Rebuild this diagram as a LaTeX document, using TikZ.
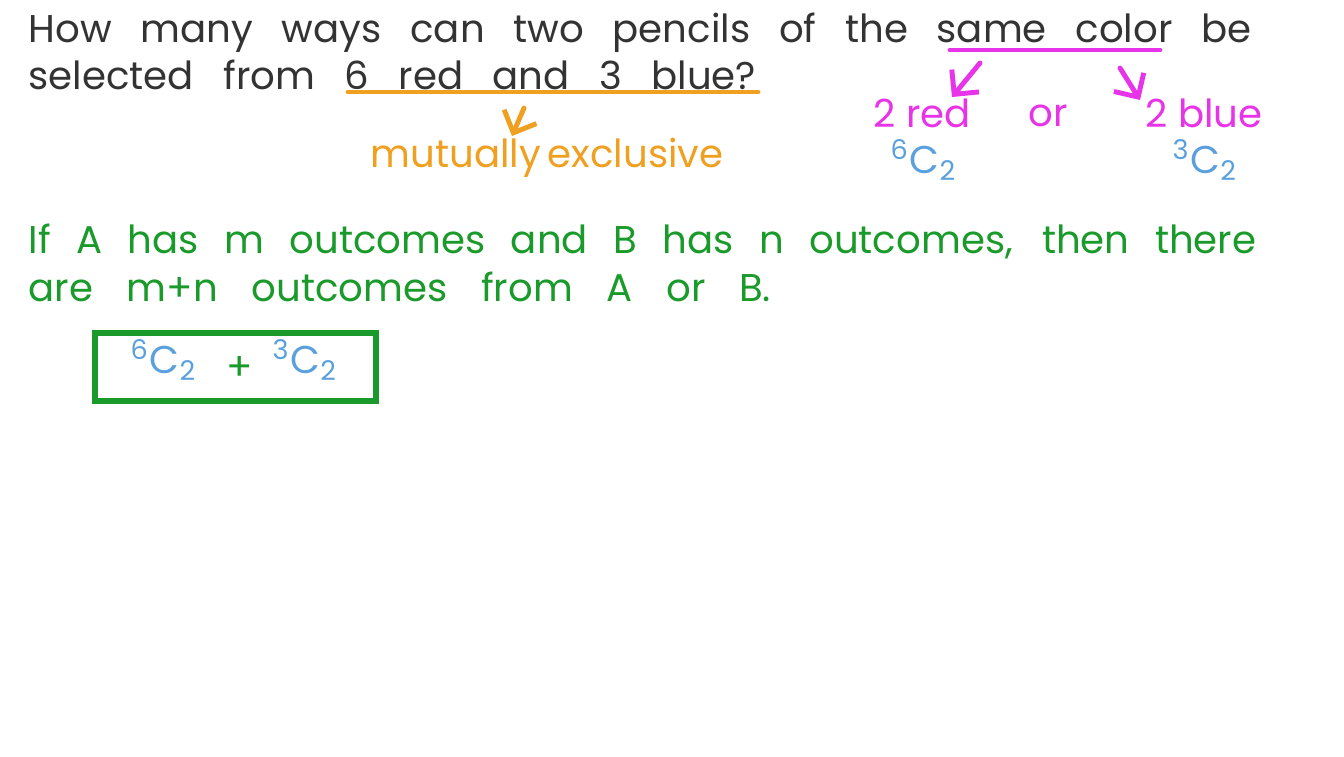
\documentclass[tikz,border=0pt]{standalone}
\usepackage{fontspec}
\setmainfont{Poppins}
\definecolor{ink}{HTML}{333333}
\definecolor{org}{HTML}{F0A020}
\definecolor{mag}{HTML}{E834E8}
\definecolor{blu}{HTML}{5AA0DC}
\definecolor{grn}{HTML}{1A9A2A}
\tikzset{txt/.style={anchor=west,inner sep=0pt,font=\fontsize{11}{13}\selectfont},
 arr/.style={-{Straight Barb[length=5pt]},line width=1.4pt,line cap=round},
 ul/.style={line width=1.4pt,line cap=round}}
\usetikzlibrary{arrows.meta}
\newcommand{\comb}[2]{\textsuperscript{#1}C\textsubscript{#2}}
\begin{document}
\begin{tikzpicture}[x=0.01cm,y=-0.01cm]
\useasboundingbox (0,0) rectangle (1344,756);
\node[txt,ink] (l1) at (28,33) {\makebox[12.22cm][s]{How many ways can two pencils of the same color be}};
\node[txt,ink] (l2) at (28,75) {\makebox[7.27cm][s]{selected from 6 red and 3 blue?}};
\coordinate (oa) at (348,92); \coordinate (ob) at (758,92);
\draw[ul,org] (oa) -- (ob);
\coordinate (oc) at (524,108); \coordinate (od) at (512,136);
\draw[arr,org] (oc) -- (od);
\node[txt,org] (me) at (370,158) {\makebox[3.38cm][s]{mutually exclusive}};
\coordinate (ma) at (950,50); \coordinate (mb) at (1160,50);
\draw[ul,mag] (ma) -- (mb);
\coordinate (mc) at (980,63); \coordinate (md) at (952,97);
\draw[arr,mag] (mc) -- (md);
\coordinate (me1) at (1120,68); \coordinate (mf) at (1140,100);
\draw[arr,mag] (me1) -- (mf);
\node[txt,mag] (r) at (873,113) {2 red};
\node[txt,mag] (o) at (1028,116) {or};
\node[txt,mag] (b) at (1145,113) {2 blue};
\node[txt,blu] (c6) at (890,160) {\comb{6}{2}};
\node[txt,blu] (c3) at (1172,160) {\comb{3}{2}};
\node[txt,grn] (g1) at (28,241) {\makebox[12.27cm][s]{If A has m outcomes and B has n outcomes, then there}};
\node[txt,grn] (g2) at (28,287) {\makebox[7.42cm][s]{are m+n outcomes from A or B.}};
\node[draw=grn,line width=1.6pt,minimum width=2.81cm,minimum height=0.68cm,anchor=north west,inner sep=0pt] (box) at (92,330) {};
\node[txt,blu] (s1) at (130,360) {\comb{6}{2}};
\node[txt,grn] (pl) at (226,368) {+};
\node[txt,blu] (s2) at (272,360) {\comb{3}{2}};
\end{tikzpicture}
\end{document}
